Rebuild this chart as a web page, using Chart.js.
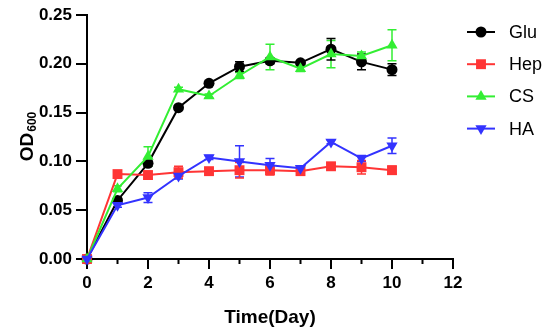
<!DOCTYPE html>
<html>
<head>
<meta charset="utf-8">
<script src="https://cdn.jsdelivr.net/npm/chart.js@4.4.1/dist/chart.umd.min.js"></script>
<style>
  html, body { margin: 0; padding: 0; background: #fff; }
  #wrap { width: 550px; height: 333px; }
</style>
</head>
<body>
<div id="wrap"><canvas id="grafica"></canvas></div>
<script>
const days = [0, 1, 2, 3, 4, 5, 6, 7, 8, 9, 10];
const xTicks = [0, 2, 4, 6, 8, 10, 12];
const yTicks = [0, 0.05, 0.10, 0.15, 0.20, 0.25];

const gluVals = [0, 0.060, 0.098, 0.155, 0.180, 0.197, 0.203, 0.201, 0.215, 0.202, 0.194];
const gluErr  = [0, 0.002, 0.003, 0.002, 0.002, 0.005, 0.003, 0.002, 0.011, 0.008, 0.006];
const hepVals = [0, 0.087, 0.086, 0.089, 0.090, 0.091, 0.091, 0.090, 0.095, 0.094, 0.091];
const hepErr  = [0, 0.002, 0.004, 0.006, 0.003, 0.008, 0.005, 0.003, 0.003, 0.007, 0.004];
const csVals  = [0, 0.072, 0.105, 0.174, 0.167, 0.188, 0.207, 0.195, 0.210, 0.208, 0.219];
const csErr   = [0, 0.003, 0.010, 0.002, 0.002, 0.003, 0.013, 0.003, 0.014, 0.004, 0.016];
const haVals  = [0, 0.055, 0.063, 0.085, 0.104, 0.100, 0.096, 0.093, 0.120, 0.103, 0.116];
const haErr   = [0, 0.002, 0.005, 0.003, 0.002, 0.016, 0.007, 0.002, 0.002, 0.003, 0.008];

const seriesNames = ['Glu', 'Hep', 'CS', 'HA'];
const seriesColors = ['#000000', '#ff3535', '#33ee33', '#3333ff'];
const seriesStyles = ['circle', 'rect', 'triangle', 'triangle'];
const seriesRot = [0, 0, 0, 180];
const seriesRad = [5.5, 7, 6.5, 6.5];
const allVals = [gluVals, hepVals, csVals, haVals];
const allErr = [gluErr, hepErr, csErr, haErr];

const fuente = '"Liberation Sans", Arial, sans-serif';

const datasets = seriesNames.map((name, i) => ({
  label: name,
  data: days.map((d, j) => ({ x: d, y: allVals[i][j] })),
  errores: allErr[i],
  borderColor: seriesColors[i],
  backgroundColor: seriesColors[i],
  borderWidth: 2,
  pointStyle: seriesStyles[i],
  pointRotation: seriesRot[i],
  pointRadius: seriesRad[i],
  pointHoverRadius: seriesRad[i],
  pointBorderWidth: 0,
  tension: 0,
  clip: false
})).reverse();

// error bars, drawn under the lines
const errorBars = {
  id: 'errorBars',
  beforeDatasetsDraw(chart) {
    const ctx = chart.ctx;
    const xs = chart.scales.x, ys = chart.scales.y;
    chart.data.datasets.forEach(ds => {
      ctx.save();
      ctx.strokeStyle = ds.borderColor;
      ctx.lineWidth = 1.5;
      ds.data.forEach((p, j) => {
        const e = ds.errores[j];
        if (!e) return;
        const px = xs.getPixelForValue(p.x);
        const top = ys.getPixelForValue(p.y + e);
        const bot = ys.getPixelForValue(p.y - e);
        ctx.beginPath();
        ctx.moveTo(px, top); ctx.lineTo(px, bot);
        ctx.moveTo(px - 4.5, top); ctx.lineTo(px + 4.5, top);
        ctx.moveTo(px - 4.5, bot); ctx.lineTo(px + 4.5, bot);
        ctx.stroke();
      });
      ctx.restore();
    });
  }
};

// minor ticks, y title with subscript, legend
const extras = {
  id: 'extras',
  afterDraw(chart) {
    const ctx = chart.ctx;
    const xs = chart.scales.x;
    const area = chart.chartArea;
    ctx.save();
    ctx.strokeStyle = '#000';
    ctx.lineWidth = 2;
    for (let v = 1; v < 12; v += 2) {
      const px = xs.getPixelForValue(v);
      ctx.beginPath();
      ctx.moveTo(px, area.bottom);
      ctx.lineTo(px, area.bottom + 5);
      ctx.stroke();
    }
    // y title OD600
    ctx.translate(26, (area.top + area.bottom) / 2);
    ctx.rotate(-Math.PI / 2);
    ctx.fillStyle = '#000';
    ctx.textBaseline = 'alphabetic';
    ctx.font = 'bold 19px ' + fuente;
    const w1 = ctx.measureText('OD').width;
    ctx.font = 'bold 12px ' + fuente;
    const w2 = ctx.measureText('600').width;
    const x0 = -(w1 + w2) / 2;
    ctx.font = 'bold 19px ' + fuente;
    ctx.fillText('OD', x0, 7);
    ctx.font = 'bold 12px ' + fuente;
    ctx.fillText('600', x0 + w1 + 1, 10);
    ctx.restore();

    // legend
    ctx.save();
    seriesNames.forEach((name, i) => {
      const y = 32 + i * 32.2;
      ctx.strokeStyle = seriesColors[i];
      ctx.fillStyle = seriesColors[i];
      ctx.lineWidth = 2;
      ctx.beginPath();
      ctx.moveTo(467, y); ctx.lineTo(495, y);
      ctx.stroke();
      Chart.helpers.drawPoint(ctx, {
        pointStyle: seriesStyles[i],
        rotation: seriesRot[i],
        radius: seriesRad[i],
        borderWidth: 0
      }, 481, y);
      ctx.fillStyle = '#000';
      ctx.font = '18px ' + fuente;
      ctx.textBaseline = 'middle';
      ctx.fillText(name, 509, y + 1);
    });
    ctx.restore();
  }
};

new Chart(document.getElementById('grafica').getContext('2d'), {
  type: 'line',
  data: { datasets: datasets },
  options: {
    responsive: true,
    maintainAspectRatio: false,
    animation: false,
    events: [],
    layout: { padding: { top: 15, right: 97, left: 0, bottom: 0 } },
    plugins: { legend: { display: false }, tooltip: { enabled: false } },
    scales: {
      x: {
        type: 'linear',
        min: 0, max: 12,
        afterBuildTicks: s => { s.ticks = xTicks.map(v => ({ value: v })); },
        afterFit: s => { s.height = 74; },
        ticks: { color: '#000', font: { family: fuente, size: 17, weight: 'bold' }, padding: 4, maxRotation: 0 },
        grid: { drawOnChartArea: false, color: '#000', lineWidth: 2, tickLength: 10, tickWidth: 2 },
        border: { color: '#000', width: 2 },
        title: {
          display: true, text: 'Time(Day)', color: '#000',
          font: { family: fuente, size: 19, weight: 'bold' }, padding: { top: 4 }
        }
      },
      y: {
        min: 0, max: 0.25,
        afterBuildTicks: s => { s.ticks = yTicks.map(v => ({ value: v })); },
        afterFit: s => { s.width = 87; },
        ticks: {
          color: '#000', font: { family: fuente, size: 17, weight: 'bold' }, padding: 4,
          callback: v => Number(v).toFixed(2)
        },
        grid: { drawOnChartArea: false, color: '#000', lineWidth: 2, tickLength: 11, tickWidth: 2 },
        border: { color: '#000', width: 2 }
      }
    }
  },
  plugins: [errorBars, extras]
});
</script>
</body>
</html>
